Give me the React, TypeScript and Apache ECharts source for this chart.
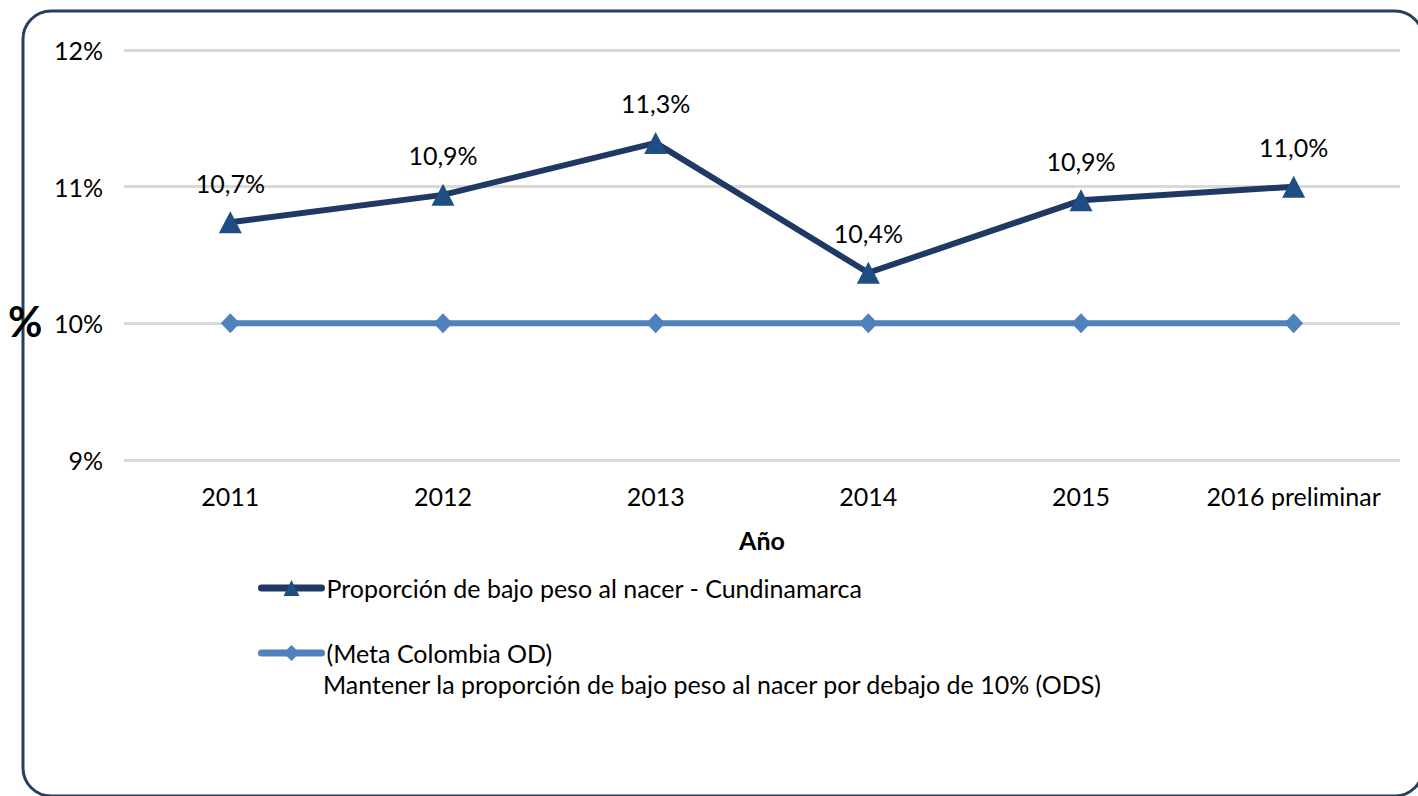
import React, { useEffect, useRef } from "react";
import * as echarts from "echarts";

const categories = ["2011", "2012", "2013", "2014", "2015", "2016 preliminar"];
const cundinamarca = [10.74, 10.94, 11.32, 10.37, 10.9, 11.0];
const metaColombia = [10, 10, 10, 10, 10, 10];
const seriesNames = [
  "Proporción de bajo peso al nacer - Cundinamarca",
  "(Meta Colombia OD)",
];
const metaSecondLine = "Mantener la proporción de bajo peso al nacer por debajo de 10% (ODS)";
const yTicks = { min: 9, max: 12, interval: 1 };
const yAxisTitle = "%";
const xAxisTitle = "Año";

const FONT = "Lato, 'Open Sans', sans-serif";
const FS = 25;

export default function App() {
  const ref = useRef<HTMLDivElement>(null);
  useEffect(() => {
    document.body.style.margin = "0";
    const chart = echarts.init(ref.current!, null, { renderer: "svg" });
    chart.setOption({
      animation: false,
      backgroundColor: "#ffffff",
      textStyle: { fontFamily: FONT },
      grid: { left: 124, right: 18, top: 50, bottom: 336, containLabel: false },
      xAxis: {
        type: "category",
        data: categories,
        boundaryGap: true,
        axisLine: { show: false },
        axisTick: { show: false },
        axisLabel: { color: "#000", fontSize: FS, fontFamily: FONT, margin: 23, interval: 0 },
        name: xAxisTitle,
        nameLocation: "middle",
        nameGap: 67,
        nameTextStyle: { color: "#000", fontSize: FS, fontWeight: "bold", fontFamily: FONT },
      },
      yAxis: {
        type: "value",
        min: yTicks.min,
        max: yTicks.max,
        interval: yTicks.interval,
        axisLine: { show: false },
        axisTick: { show: false },
        axisLabel: {
          color: "#000",
          fontSize: FS,
          fontFamily: FONT,
          margin: 21,
          formatter: (v: number) => `${v}%`,
        },
        splitLine: { lineStyle: { color: "#D9D9D9", width: 3 } },
      },
      legend: [
        {
          data: [seriesNames[0]],
          left: 253,
          top: 570,
          itemWidth: 60,
          itemHeight: 20,
          lineStyle: { width: 7, cap: "round" },
          textStyle: { color: "#000", fontSize: FS, fontFamily: FONT, lineHeight: 26 },
        },
        {
          data: [seriesNames[1]],
          left: 253,
          top: 635,
          itemWidth: 60,
          itemHeight: 20,
          lineStyle: { width: 7, cap: "round" },
          textStyle: { color: "#000", fontSize: FS, fontFamily: FONT, lineHeight: 26 },
        },
      ],
      graphic: [
        {
          type: "rect",
          shape: { x: 23, y: 11, width: 1400, height: 785, r: 28 },
          style: { fill: "none", stroke: "#243F60", lineWidth: 3 },
          z: 100,
        },
        {
          type: "text",
          left: 323,
          top: 671,
          style: { text: metaSecondLine, fill: "#000", font: `${FS}px ${FONT}`, lineHeight: 26 },
        },
        {
          type: "text",
          left: 8,
          top: 300,
          z: 200,
          style: { text: yAxisTitle, fill: "#000", font: `bold 42px ${FONT}` },
        },
      ],
      series: [
        {
          name: seriesNames[1],
          type: "line",
          data: metaColombia,
          symbol: "diamond",
          symbolSize: [19, 20],
          lineStyle: { color: "#4F81BD", width: 6 },
          itemStyle: { color: "#4F81BD" },
          z: 2,
        },
        {
          name: seriesNames[0],
          type: "line",
          data: cundinamarca,
          symbol: "triangle",
          symbolSize: [23, 22],
          lineStyle: { color: "#1F3864", width: 6 },
          itemStyle: { color: "#1F4E82" },
          label: {
            show: true,
            position: "top",
            distance: 16,
            color: "#000",
            fontSize: FS,
            fontFamily: FONT,
            formatter: (p: any) => `${p.value.toFixed(1).replace(".", ",")}%`,
          },
          z: 3,
        },
      ],
    });
    return () => chart.dispose();
  }, []);
  return <div ref={ref} style={{ width: 1418, height: 796 }} />;
}
